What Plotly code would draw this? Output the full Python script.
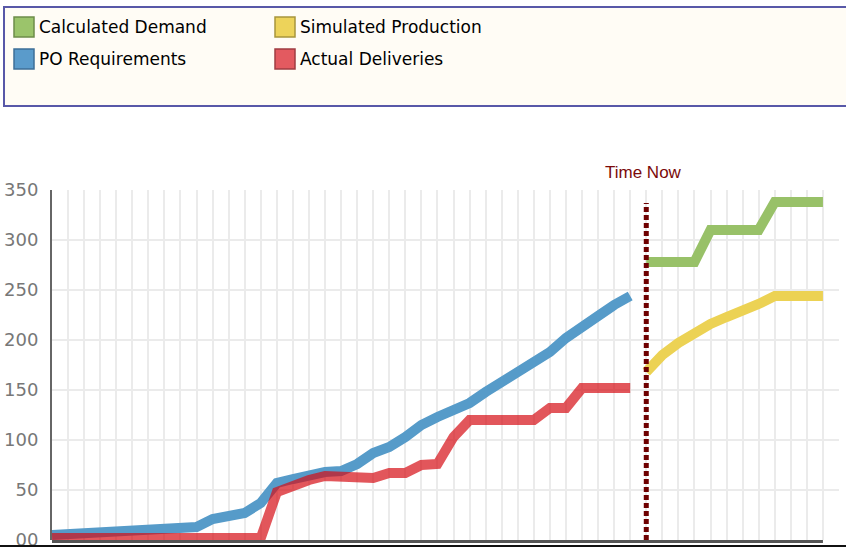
import plotly.graph_objects as go

# ---------------- data ----------------
past_idx = list(range(0, 37))      # periods up to "Time Now"
future_idx = list(range(37, 49))   # periods after "Time Now"
time_now = 37

po_requirements = [5, 6, 7, 8, 9, 9, 10, 10, 11, 13, 21, 23, 27, 37, 57, 61, 65, 68, 69, 76,
                   87, 93, 103, 115, 123, 129, 137, 148, 158, 168, 178, 188, 202, 212, 224, 235, 244]
actual_deliveries = [2, 2, 2, 2, 2, 2, 2, 2, 2, 2, 2, 2, 2, 2, 48, 55, 60, 64, 64, 62,
                     62, 67, 67, 75, 76, 103, 120, 120, 120, 120, 120, 132, 132, 152, 152, 152, 152]
calculated_demand = [278, 278, 278, 278, 310, 310, 310, 310, 338, 338, 338, 338]
simulated_production = [168, 185, 197, 207, 216, 223, 229, 236, 244, 244, 244, 244]

y_tick_vals = [0, 50, 100, 150, 200, 250, 300, 350]
y_tick_text = ["00", "50", "100", "150", "200", "250", "300", "350"]

legend_labels = ["Calculated Demand", "PO Requirements", "Simulated Production", "Actual Deliveries"]
legend_colors = ["#9BC46B", "#5A9BCB", "#EDD35A", "#E35A60"]
legend_borders = ["#6E8C4A", "#3E6F98", "#A8953C", "#A03C42"]

# ---------------- layout helpers (pixel -> paper) ----------------
W, H = 846, 548
ML, MR, MT, MB = 52, 7, 190, 8
PW, PH = W - ML - MR, H - MT - MB


def px_x(p):
    return (p - ML) / PW


def px_y(p):
    return (H - MB - p) / PH


fig = go.Figure()

fig.add_trace(go.Scatter(x=past_idx, y=po_requirements, mode="lines", name="PO Requirements",
                         line=dict(color="rgb(86,155,201)", width=10), showlegend=False))
fig.add_trace(go.Scatter(x=past_idx, y=actual_deliveries, mode="lines", name="Actual Deliveries",
                         line=dict(color="rgba(214,14,22,0.7)", width=10), showlegend=False))
fig.add_trace(go.Scatter(x=future_idx, y=calculated_demand, mode="lines", name="Calculated Demand",
                         line=dict(color="rgb(152,193,104)", width=10), showlegend=False))
fig.add_trace(go.Scatter(x=future_idx, y=simulated_production, mode="lines", name="Simulated Production",
                         line=dict(color="rgb(236,210,84)", width=10), showlegend=False))

shapes = []
# legend box
shapes.append(dict(type="rect", xref="paper", yref="paper",
                   x0=px_x(4), x1=px_x(852), y0=px_y(106), y1=px_y(7),
                   line=dict(color="#5858a8", width=2), fillcolor="#FFFCF5", layer="below"))
# legend swatches
sw_pos = [(14, 17), (14, 49), (275, 17), (275, 49)]
annotations = []
for (sx, sy), lab, col, bcol in zip(sw_pos, legend_labels, legend_colors, legend_borders):
    shapes.append(dict(type="rect", xref="paper", yref="paper",
                       x0=px_x(sx), x1=px_x(sx + 20), y0=px_y(sy + 20), y1=px_y(sy),
                       line=dict(color=bcol, width=1.5), fillcolor=col))
    annotations.append(dict(xref="paper", yref="paper", x=px_x(sx + 23), y=px_y(sy + 10),
                            xanchor="left", yanchor="middle", showarrow=False, text=lab,
                            font=dict(family="DejaVu Sans", size=17, color="#000000")))

# x axis base line
shapes.append(dict(type="line", xref="x", yref="paper", x0=past_idx[0], x1=future_idx[-1],
                   y0=-0.004, y1=-0.004, line=dict(color="#555555", width=3)))
# time now dotted line
shapes.append(dict(type="line", xref="x", yref="y", x0=time_now, x1=time_now, y0=0, y1=337,
                   line=dict(color="#6e0000", width=5, dash="5px,3px")))
# bottom black border line
shapes.append(dict(type="line", xref="paper", yref="paper", x0=px_x(0), x1=px_x(W),
                   y0=px_y(546), y1=px_y(546), line=dict(color="#111111", width=2)))

annotations.append(dict(xref="x", yref="paper", x=time_now, y=px_y(172), xshift=-3,
                        xanchor="center", yanchor="middle", showarrow=False, text="Time Now",
                        font=dict(family="Liberation Sans", size=17, color="#7B0A0A")))

fig.update_layout(
    width=W, height=H,
    margin=dict(l=ML, r=MR, t=MT, b=MB, pad=0, autoexpand=False),
    paper_bgcolor="white", plot_bgcolor="white",
    showlegend=False,
    shapes=shapes,
    annotations=annotations,
    xaxis=dict(range=[0, 49], tick0=0, dtick=1, showgrid=True, gridcolor="#ebebeb", gridwidth=1.5,
               showticklabels=False, zeroline=False, showline=False, ticks="", fixedrange=True,
               automargin=False),
    yaxis=dict(range=[0, 350], tickvals=y_tick_vals, ticktext=y_tick_text, showgrid=True,
               gridcolor="#ebebeb", gridwidth=1.5, zeroline=False, showline=True,
               linecolor="#666666", linewidth=2, ticks="", ticklabelstandoff=8,
               ticklabeloverflow="allow", automargin=False,
               tickfont=dict(family="DejaVu Sans", size=18, color="#777777"), fixedrange=True),
)

fig.write_html("out.html", config={"displayModeBar": False},
               post_script="document.body.style.margin='0';document.body.style.overflow='hidden';")
